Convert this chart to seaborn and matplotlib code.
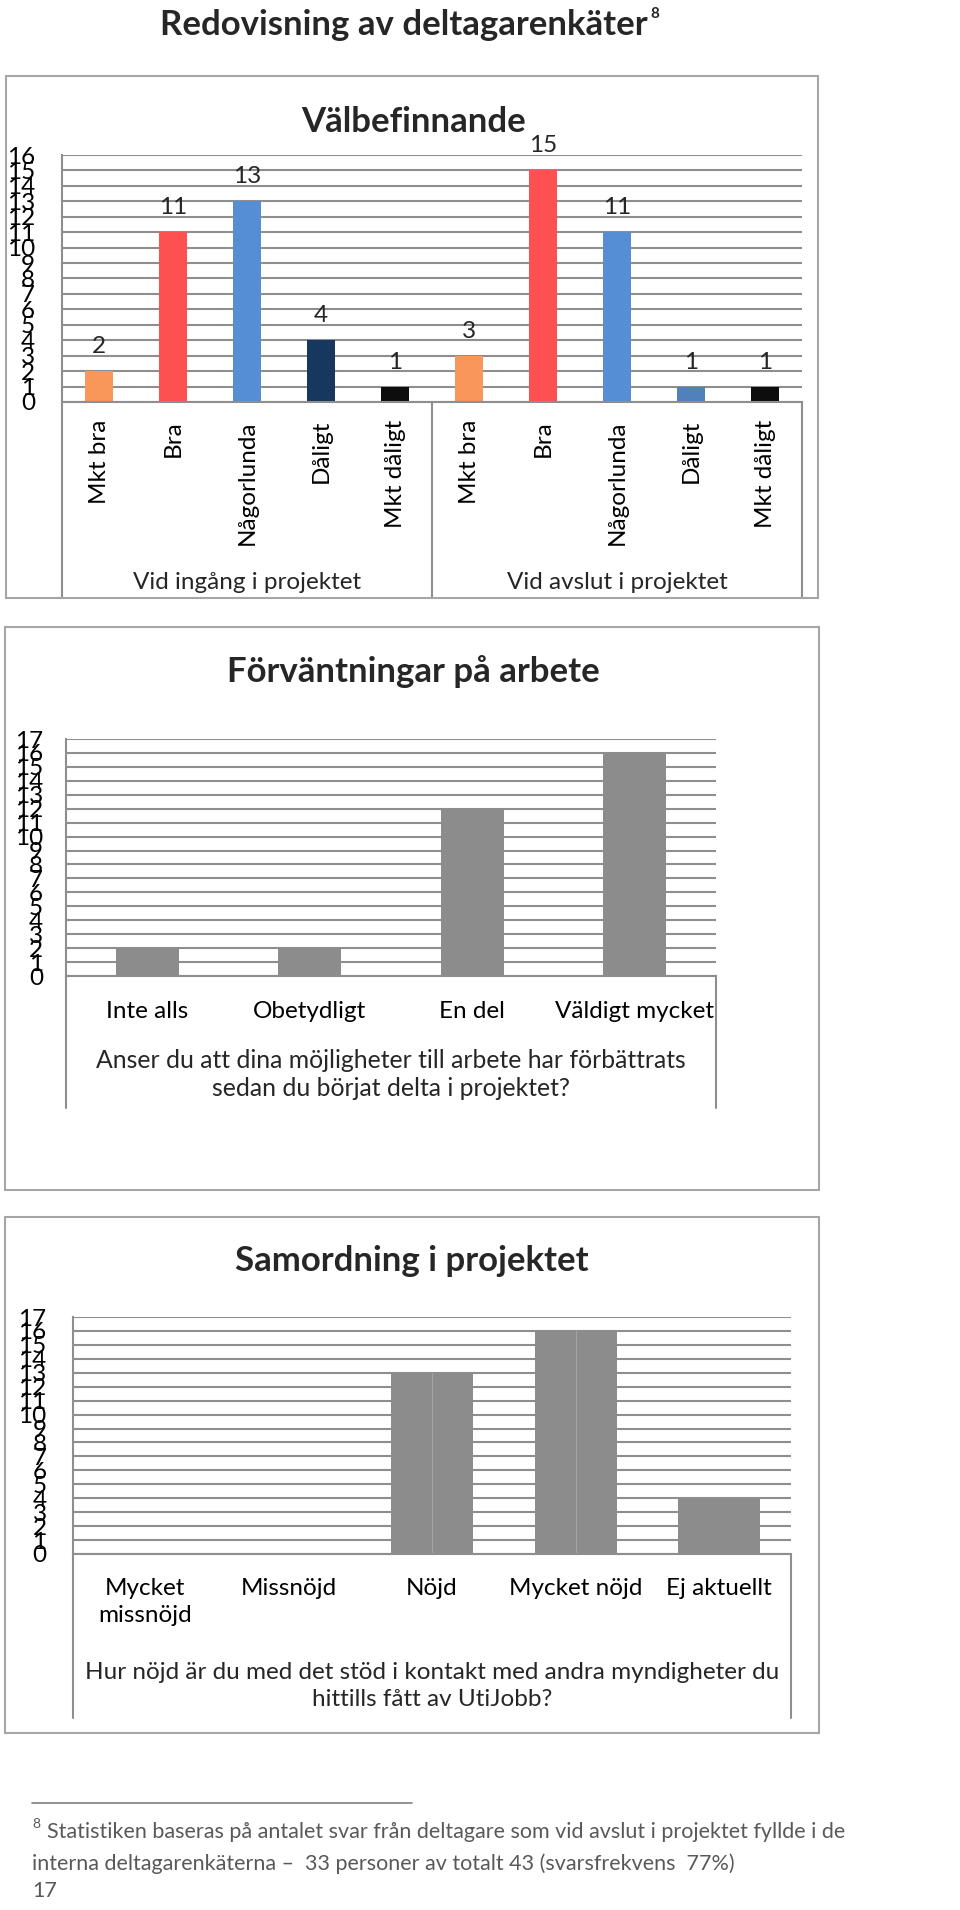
import matplotlib
matplotlib.use("Agg")
import matplotlib.pyplot as plt
import seaborn as sns
import pandas as pd
import numpy as np
from matplotlib.patches import Rectangle
from matplotlib.lines import Line2D
from matplotlib.transforms import blended_transform_factory

# ---------------- data ----------------
page_title = "Redovisning av deltagarenkäter"
footnote_mark = "8"

vb_title = "Välbefinnande"
vb_groups = ["Vid ingång i projektet", "Vid avslut i projektet"]
vb_labels = ["Mkt bra", "Bra", "Någorlunda", "Dåligt", "Mkt dåligt"]
vb_entry = [2, 11, 13, 4, 1]
vb_exit = [3, 15, 11, 1, 1]
vb_colors_entry = ["#F9965A", "#FD5050", "#558ED5", "#17375E", "#0D0D0D"]
vb_colors_exit = ["#F9965A", "#FD5050", "#558ED5", "#4F81BD", "#0D0D0D"]
vb_yticks = list(range(0, 17))

fa_title = "Förväntningar på arbete"
fa_labels = ["Inte alls", "Obetydligt", "En del", "Väldigt mycket"]
fa_values = [2, 2, 12, 16]
fa_question = "Anser du att dina möjligheter till arbete har förbättrats\nsedan du börjat delta i projektet?"
fa_yticks = list(range(0, 18))

sp_title = "Samordning i projektet"
sp_labels = ["Mycket\nmissnöjd", "Missnöjd", "Nöjd", "Mycket nöjd", "Ej aktuellt"]
sp_values = [0, 0, 13, 16, 4]
sp_split = ["Nöjd", "Mycket nöjd"]
sp_question = "Hur nöjd är du med det stöd i kontakt med andra myndigheter du\nhittills fått av UtiJobb?"
sp_yticks = list(range(0, 18))

fn_line1 = "Statistiken baseras på antalet svar från deltagare som vid avslut i projektet fyllde i de"
fn_line2 = "interna deltagarenkäterna –  33 personer av totalt 43 (svarsfrekvens  77%)"
page_number = "17"

# ---------------- style ----------------
sns.set_theme(style="white")
plt.rcParams['font.family'] = ['Lato', 'DejaVu Sans']

W, H = 960, 1910
FS = 17.5
TFS = 25
GRID = "#8E8E8E"
BOX = "#A6A6A6"
GRAYBAR = "#8C8C8C"
FNCOL = "#595959"

fig = plt.figure(figsize=(W / 100, H / 100), dpi=100)
fig.patch.set_facecolor("white")


def axes_px(l, t, r, b):
    return fig.add_axes([l / W, 1 - b / H, (r - l) / W, (b - t) / H])


def box_px(l, t, r, b):
    fig.add_artist(Rectangle((l / W, 1 - b / H), (r - l) / W, (b - t) / H,
                             transform=fig.transFigure, fill=False,
                             ec=BOX, lw=1.5))


def ftext(x, y, s, **kw):
    return fig.text(x / W, 1 - y / H, s, **kw)


def style_axes(ax, yticks, ypad, xlabels, xpad, rotation=0):
    ax.set_ylim(0, max(yticks))
    ax.set_yticks(yticks)
    ax.set_yticklabels([str(t) for t in yticks])
    ax.set_xticks(range(len(xlabels)))
    ax.set_xticklabels(xlabels, rotation=rotation)
    ax.set_xlim(-0.5, len(xlabels) - 0.5)
    ax.yaxis.grid(True, color=GRID, lw=1.5)
    ax.xaxis.grid(False)
    ax.set_axisbelow(True)
    for s in ["top", "right"]:
        ax.spines[s].set_visible(False)
    for s in ["left", "bottom"]:
        ax.spines[s].set_color(GRID)
        ax.spines[s].set_linewidth(1.5)
    ax.tick_params(axis="y", length=0, pad=ypad, labelsize=FS, labelcolor="black")
    ax.tick_params(axis="x", length=0, pad=xpad, labelsize=FS, labelcolor="black")
    ax.set_xlabel("")
    ax.set_ylabel("")
    ax.patch.set_alpha(0)


def extend_lines(ax, xs, ybottom):
    tr = blended_transform_factory(ax.transData, ax.transAxes)
    for x in xs:
        ax.add_line(Line2D([x, x], [0, ybottom], transform=tr, color=GRID,
                           lw=1.5, clip_on=False))


# ---------------- page title ----------------
t = ftext(404, 35, page_title, ha="center", va="baseline",
          fontsize=TFS, fontweight="bold")

# ---------------- chart 1 ----------------
box_px(6, 76, 818, 598)
ftext(414, 132, vb_title, ha="center", va="baseline", fontsize=TFS, fontweight="bold")

df1 = pd.DataFrame({
    "key": [f"{g}|{l}" for g in vb_groups for l in vb_labels],
    "label": vb_labels * len(vb_groups),
    "value": vb_entry + vb_exit,
})
pal1 = dict(zip(df1["key"], vb_colors_entry + vb_colors_exit))
ax1 = axes_px(62, 155, 802, 402)
sns.barplot(data=df1, x="key", y="value", hue="key", palette=pal1,
            order=list(df1["key"]), hue_order=list(df1["key"]),
            width=0.39, saturation=1, dodge=False, legend=False, ax=ax1,
            linewidth=0)
style_axes(ax1, vb_yticks, 19.5, list(df1["label"]), 13, rotation=90)
for p in ax1.patches:
    h = p.get_height()
    if np.isnan(h):
        continue
    ax1.annotate(f"{h:g}", (p.get_x() + p.get_width() / 2, h), xytext=(0, 13),
                 textcoords="offset points", ha="center", va="baseline", fontsize=FS)
n1 = len(vb_labels)
extend_lines(ax1, [-0.5 + i * n1 for i in range(len(vb_groups) + 1)], -0.794)
tr1 = blended_transform_factory(ax1.transData, ax1.transAxes)
for i, g in enumerate(vb_groups):
    ax1.text(i * n1 + (n1 - 1) / 2, -0.729, g, transform=tr1, ha="center",
             va="center", fontsize=FS)

# ---------------- chart 2 ----------------
box_px(5, 627, 819, 1190)
ftext(413, 682, fa_title, ha="center", va="baseline", fontsize=TFS, fontweight="bold")
ax2 = axes_px(66, 739, 716, 976)
sns.barplot(x=fa_labels, y=fa_values, color=GRAYBAR, width=0.39, saturation=1,
            ax=ax2, linewidth=0)
style_axes(ax2, fa_yticks, 16.5, fa_labels, 18)
extend_lines(ax2, [-0.5, len(fa_labels) - 0.5], -0.557)
ax2.text(0.5, -0.4156, fa_question, transform=ax2.transAxes, ha="center",
         va="center", fontsize=17.8, linespacing=1.3)

# ---------------- chart 3 ----------------
box_px(5, 1217, 819, 1733)
ftext(412, 1271, sp_title, ha="center", va="baseline", fontsize=TFS, fontweight="bold")
ax3 = axes_px(73, 1317, 791, 1554)
sns.barplot(x=sp_labels, y=sp_values, color=GRAYBAR, width=0.57, saturation=1,
            ax=ax3, linewidth=0)
style_axes(ax3, sp_yticks, 19, sp_labels, 17.5)
for lab in ax3.get_xticklabels():
    lab.set_linespacing(1.35)
extend_lines(ax3, [-0.5, len(sp_labels) - 0.5], -0.692)
for p, lab in zip(ax3.patches, sp_labels):
    if lab in sp_split:
        cx = p.get_x() + p.get_width() / 2
        ax3.plot([cx, cx], [0, p.get_height()], color="#A4A4A4", lw=0.8)
ax3.text(0.5, -(1686 - 1554) / 237, sp_question, transform=ax3.transAxes, ha="center",
         va="center", fontsize=FS, linespacing=1.3)

# ---------------- footnote ----------------
fig.add_artist(Line2D([32 / W, 412 / W], [1 - 1803 / H] * 2, transform=fig.transFigure,
                      color="#7F7F7F", lw=1.2))
ftext(32, 1828, footnote_mark, ha="left", va="baseline", fontsize=10, color=FNCOL)
ftext(47, 1838, fn_line1, ha="left", va="baseline", fontsize=15.5, color=FNCOL)
ftext(32, 1870, fn_line2, ha="left", va="baseline", fontsize=15.5, color=FNCOL)
ftext(32, 1897, page_number, ha="left", va="baseline", fontsize=15.5, color=FNCOL)

# superscript after page title
fig.canvas.draw()
bb = t.get_window_extent(fig.canvas.get_renderer())
fig.text((bb.x1 + 3) / W, 1 - 7 / H, footnote_mark, ha="left", va="top",
         fontsize=11, fontweight="bold")

fig.savefig("out.png", dpi=100, facecolor="white")
